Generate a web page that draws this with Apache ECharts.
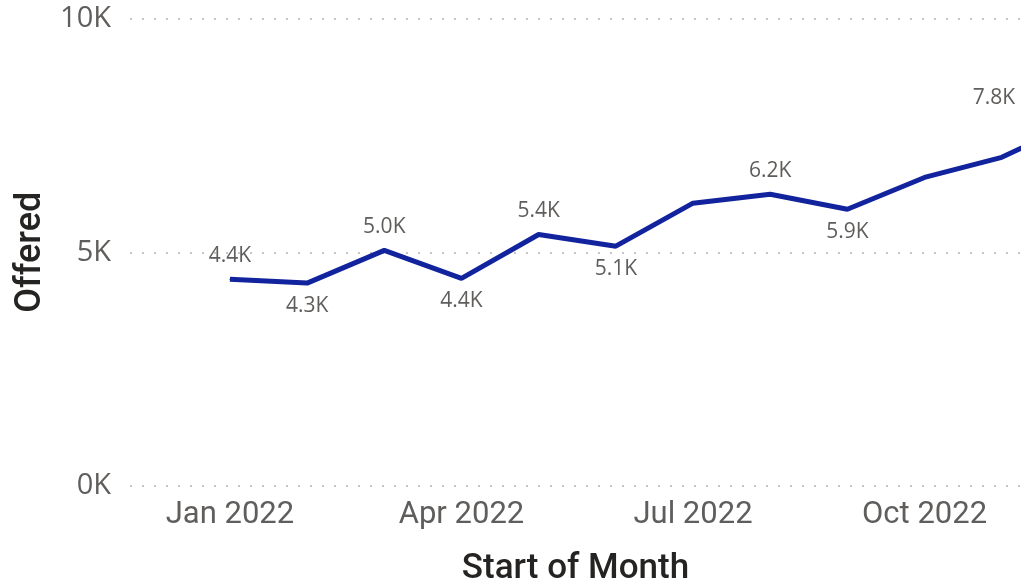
<!DOCTYPE html>
<html>
<head>
    <meta charset="utf-8">
    <title>Offered by Start of Month</title>
    <script src="https://cdn.jsdelivr.net/npm/echarts@6.0.0/dist/echarts.min.js"></script>
    <style>
        html, body { margin: 0; padding: 0; background: #fff; }
        #main { width: 1021px; height: 583px; }
    </style>
</head>
<body>
    <div id="main"></div>
    <script>
        // monthly data, values in thousands
        var months = ['Jan 2022', 'Feb 2022', 'Mar 2022', 'Apr 2022', 'May 2022', 'Jun 2022',
                      'Jul 2022', 'Aug 2022', 'Sep 2022', 'Oct 2022', 'Nov 2022', 'Dec 2022'];
        var offered = [4.42, 4.34, 5.04, 4.44, 5.38, 5.13, 6.05, 6.24, 5.92, 6.60, 7.03, 7.80];
        // where each data label sits ('' = no label)
        var labelPos = ['top', 'bottom', 'top', 'bottom', 'top', 'bottom', '', 'top', 'bottom', '', '', 'top'];
        var yTicks = [0, 5, 10];
        var xTickMonths = [0, 3, 6, 9];

        var myChart = echarts.init(document.getElementById('main'));

        var seriesData = offered.map(function (v, i) {
            var item = { value: [i, v] };
            if (labelPos[i]) {
                item.label = { show: true, position: labelPos[i] };
                if (i === 11) item.label.offset = [-85, 0];
            } else {
                item.label = { show: false };
            }
            return item;
        });

        var option = {
            animation: false,
            grid: { left: 130, right: 0, top: 18.5, bottom: 97, containLabel: false, outerBoundsMode: 'none' },
            xAxis: {
                type: 'value',
                min: -1.295,
                max: 10.25,
                name: 'Start of Month',
                nameLocation: 'middle',
                nameGap: 66,
                nameTextStyle: { fontFamily: 'Roboto', fontWeight: 500, fontSize: 35, color: '#252423' },
                axisLine: { show: false },
                axisTick: { show: false },
                splitLine: { show: false },
                axisLabel: {
                    customValues: xTickMonths,
                    margin: 14,
                    fontFamily: 'Roboto',
                    fontSize: 31,
                    color: '#605E5C',
                    formatter: function (v) { return months[Math.round(v)] || ''; }
                }
            },
            yAxis: {
                type: 'value',
                min: 0,
                max: 10,
                interval: 5,
                name: 'Offered',
                nameLocation: 'middle',
                nameGap: 77,
                nameTextStyle: { fontFamily: 'Roboto', fontWeight: 500, fontSize: 36, color: '#252423' },
                axisLine: { show: false },
                axisTick: { show: false },
                axisLabel: {
                    margin: 19,
                    fontFamily: 'Open Sans',
                    fontSize: 29,
                    color: '#605E5C',
                    formatter: function (v) { return yTicks.indexOf(v) >= 0 ? v + 'K' : ''; }
                },
                splitLine: {
                    lineStyle: { color: '#C8C6C4', width: 2, type: [2, 10] }
                }
            },
            series: [{
                name: 'Offered',
                type: 'line',
                clip: false,
                data: seriesData,
                symbol: 'circle',
                symbolSize: 1,
                lineStyle: { color: '#12239E', width: 5 },
                itemStyle: { color: '#12239E' },
                label: {
                    distance: 12,
                    fontFamily: 'Open Sans',
                    fontSize: 21,
                    color: '#605E5C',
                    formatter: function (p) { return p.value[1].toFixed(1) + 'K'; }
                }
            }]
        };

        myChart.setOption(option);
    </script>
</body>
</html>
